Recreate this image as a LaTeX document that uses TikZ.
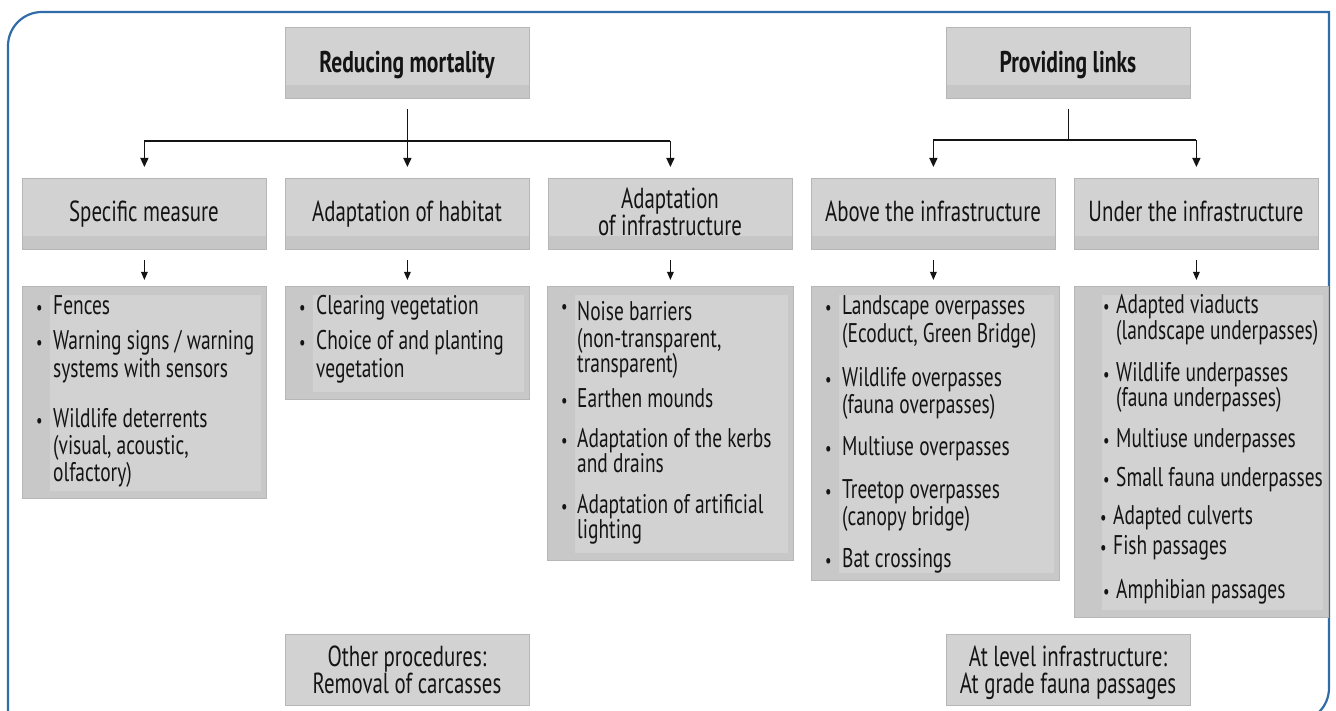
\documentclass[tikz,border=0pt]{standalone}
\usepackage{fontspec}
\setmainfont[FakeStretch=0.72]{PT Sans}
\usetikzlibrary{arrows.meta,calc}
\definecolor{frameblue}{HTML}{2F6CA8}
\definecolor{boxfill}{HTML}{D2D2D2}
\definecolor{boxband}{HTML}{C6C6C6}
\definecolor{boxouter}{HTML}{C8C8C8}
\definecolor{boxedge}{HTML}{B6B6B6}
\definecolor{ink}{HTML}{141414}
\begin{document}
\begin{tikzpicture}[x=1pt,y=-1pt,
  hdr/.style={draw=boxedge,line width=0.8pt,fill=boxfill,anchor=north west,inner sep=0pt,minimum width=244pt,minimum height=71pt,
    path picture={\fill[boxband] (path picture bounding box.south west) rectangle ([yshift=13pt]path picture bounding box.south east);}},
  lst/.style={draw=boxedge,line width=0.8pt,fill=boxouter,anchor=north west,inner sep=0pt,
    path picture={\fill[boxfill] ([xshift=28pt,yshift=-9pt]path picture bounding box.north west) rectangle ([xshift=-5pt,yshift=7pt]path picture bounding box.south east);}},
  txt/.style={font=\fontsize{27}{28}\selectfont, text=ink, inner sep=0pt, anchor=base west},
  ctr/.style={font=\fontsize{29}{30}\selectfont, text=ink, inner sep=0pt, anchor=base},
  ttl/.style={font=\fontsize{30}{31}\selectfont\bfseries, text=ink, inner sep=0pt, anchor=base},
  bul/.style={font=\fontsize{20}{20}\selectfont, text=ink, inner sep=0pt, anchor=base west},
  ln/.style={draw=ink, line width=1.3pt},
  arr/.style={ln, -{Triangle[width=8pt,length=9pt]}},
  sarr/.style={ln, -{Triangle[width=6.5pt,length=8pt]}}
]
\useasboundingbox (0,0) rectangle (1336,711);
\clip (0,0) rectangle (1336,711);
\fill[white] (0,0) rectangle (1336,711);
% frame
\draw[frameblue, line width=2.2pt] (8,760) -- (8,46) .. controls (8,27.2) and (23.2,12) .. (42,12) -- (1329,12) -- (1329,688) .. controls (1329,706.8) and (1313.8,722) .. (1295,722) -- (8,722);

% top boxes
\node[hdr] (red) at (285,27) {};
\node[ttl] (tred) at (407,73) {Reducing mortality};
\node[hdr] (prov) at (946,27) {};
\node[ttl] (tprov) at (1068,73) {Providing links};

% header boxes
\node[hdr] (h1) at (22,178) {};
\node[hdr] (h2) at (285,178) {};
\node[hdr] (h3) at (548,178) {};
\node[hdr] (h4) at (811,178) {};
\node[hdr] (h5) at (1074,178) {};
\node[ctr] (th1) at (144,222) {Specific measure};
\node[ctr] (th2) at (407,222) {Adaptation of habitat};
\node[ctr] (th3a) at (670,209) {Adaptation};
\node[ctr] (th3b) at (670,236) {of infrastructure};
\node[ctr] (th4) at (933,222) {Above the infrastructure};
\node[ctr] (th5) at (1196,222) {Under the infrastructure};

% connectors top
\coordinate (rj) at (407,141);
\coordinate (pj) at (1068,140);
\draw[ln] (h1.north |- rj) -- (h3.north |- rj);
\draw[arr] ($(red.south)+(0,10)$) -- ($(h2.north)+(0,-11)$);
\draw[arr] (h1.north |- rj) -- ($(h1.north)+(0,-11)$);
\draw[arr] (h3.north |- rj) -- ($(h3.north)+(0,-11)$);
\draw[ln] ($(prov.south)+(0,10)$) -- (prov.south |- pj);
\draw[ln] (h4.north |- pj) -- (h5.north |- pj);
\draw[arr] (h4.north |- pj) -- ($(h4.north)+(0,-11)$);
\draw[arr] (h5.north |- pj) -- ($(h5.north)+(0,-11)$);

% list boxes
\node[lst, minimum width=244pt, minimum height=212pt] (l1) at (22,286) {};
\node[lst, minimum width=244pt, minimum height=113pt] (l2) at (285,286) {};
\node[lst, minimum width=246pt, minimum height=274pt] (l3) at (547,286) {};
\node[lst, minimum width=248pt, minimum height=294pt] (l4) at (811,286) {};
\node[lst, minimum width=254pt, minimum height=331pt] (l5) at (1074,286) {};

% short arrows
\draw[sarr] ($(h1.south)+(0,10)$) -- ($(h1.south |- l1.north)+(0,-6)$);
\draw[sarr] ($(h2.south)+(0,10)$) -- ($(h2.south |- l2.north)+(0,-6)$);
\draw[sarr] ($(h3.south)+(0,10)$) -- ($(h3.south |- l3.north)+(0,-6)$);
\draw[sarr] ($(h4.south)+(0,10)$) -- ($(h4.south |- l4.north)+(0,-6)$);
\draw[sarr] ($(h5.south)+(0,10)$) -- ($(h5.south |- l5.north)+(0,-6)$);

% list 1
\node[bul] (p1a) at (36,315) {•};
\node[txt] (s1a) at (53,315) {Fences};
\node[bul] (p1b) at (36,349) {•};
\node[txt] (s1b) at (53,349) {Warning signs / warning};
\node[txt] (s1c) at (53,377) {systems with sensors};
\node[bul] (p1d) at (36,427) {•};
\node[txt] (s1d) at (53,427) {Wildlife deterrents};
\node[txt] (s1e) at (53,454) {(visual, acoustic,};
\node[txt] (s1f) at (53,481) {olfactory)};

% list 2
\node[bul] (p2a) at (299,315) {•};
\node[txt] (s2a) at (316,315) {Clearing vegetation};
\node[bul] (p2b) at (299,349) {•};
\node[txt] (s2b) at (316,349) {Choice of and planting};
\node[txt] (s2c) at (316,377) {vegetation};

% list 3
\node[bul] (p3a) at (561,313) {•};
\node[txt] (s3a) at (577,320) {Noise barriers};
\node[txt] (s3b) at (577,347) {(non-transparent,};
\node[txt] (s3c) at (577,372) {transparent)};
\node[bul] (p3d) at (561,407) {•};
\node[txt] (s3d) at (577,407) {Earthen mounds};
\node[bul] (p3e) at (561,447) {•};
\node[txt] (s3e) at (577,447) {Adaptation of the kerbs};
\node[txt] (s3f) at (577,472) {and drains};
\node[bul] (p3g) at (561,513) {•};
\node[txt] (s3g) at (577,513) {Adaptation of artificial};
\node[txt] (s3h) at (577,538) {lighting};

% list 4
\node[bul] (p4a) at (825,315) {•};
\node[txt] (s4a) at (842,315) {Landscape overpasses};
\node[txt] (s4b) at (842,342) {(Ecoduct, Green Bridge)};
\node[bul] (p4c) at (825,386) {•};
\node[txt] (s4c) at (842,386) {Wildlife overpasses};
\node[txt] (s4d) at (842,413) {(fauna overpasses)};
\node[bul] (p4e) at (825,455) {•};
\node[txt] (s4e) at (842,455) {Multiuse overpasses};
\node[bul] (p4f) at (825,498) {•};
\node[txt] (s4f) at (842,498) {Treetop overpasses};
\node[txt] (s4g) at (842,525) {(canopy bridge)};
\node[bul] (p4h) at (825,567) {•};
\node[txt] (s4h) at (842,567) {Bat crossings};

% list 5
\node[bul] (p5a) at (1103,313) {•};
\node[txt] (s5a) at (1116,313) {Adapted viaducts};
\node[txt] (s5b) at (1116,339) {(landscape underpasses)};
\node[bul] (p5c) at (1103,381) {•};
\node[txt] (s5c) at (1116,381) {Wildlife underpasses};
\node[txt] (s5d) at (1116,406) {(fauna underpasses)};
\node[bul] (p5e) at (1103,447) {•};
\node[txt] (s5e) at (1116,447) {Multiuse underpasses};
\node[bul] (p5f) at (1103,486) {•};
\node[txt] (s5f) at (1116,486) {Small fauna underpasses};
\node[bul] (p5g) at (1100,524) {•};
\node[txt] (s5g) at (1113,524) {Adapted culverts};
\node[bul] (p5h) at (1100,554) {•};
\node[txt] (s5h) at (1113,554) {Fish passages};
\node[bul] (p5i) at (1103,598) {•};
\node[txt] (s5i) at (1116,598) {Amphibian passages};

% bottom boxes
\node[hdr, path picture={}] (b1) at (285,634) {};
\node[ctr] (tb1a) at (407,666) {Other procedures:};
\node[ctr] (tb1b) at (407,693) {Removal of carcasses};
\node[hdr, path picture={}] (b2) at (946,634) {};
\node[ctr] (tb2a) at (1068,666) {At level infrastructure:};
\node[ctr] (tb2b) at (1068,693) {At grade fauna passages};
\end{tikzpicture}
\end{document}
